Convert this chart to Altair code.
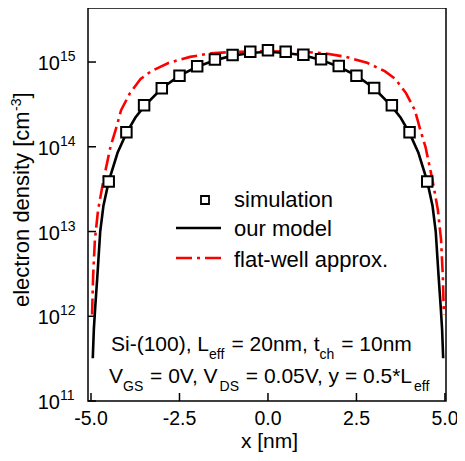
import altair as alt
import pandas as pd

# ---------------- data ----------------
x_sim = [-4.5, -4.0, -3.5, -3.0, -2.5, -2.0, -1.5, -1.0, -0.5, 0.0,
         0.5, 1.0, 1.5, 2.0, 2.5, 3.0, 3.5, 4.0, 4.5]
n_sim = [3.9e13, 1.48e14, 3.08e14, 4.9e14, 6.9e14, 8.9e14, 1.07e15, 1.21e15, 1.32e15, 1.38e15,
         1.32e15, 1.22e15, 1.08e15, 8.95e14, 6.9e14, 4.95e14, 3.08e14, 1.48e14, 3.9e13]

x_model = [-4.95, -4.92, -4.88, -4.82, -4.74, -4.65, -4.5, -4.25, -4.0, -3.75, -3.5, -3.0,
           -2.5, -2.0, -1.5, -1.0, -0.5, 0.0, 0.5, 1.0, 1.5, 2.0, 2.5, 3.0, 3.5, 3.75,
           4.0, 4.25, 4.5, 4.65, 4.74, 4.82, 4.88, 4.92, 4.95]
n_model = [3.2e11, 7e11, 1.3e12, 3e12, 1e13, 2.0e13, 3.9e13, 8.5e13, 1.45e14, 2.2e14, 3.0e14, 4.9e14,
           6.9e14, 8.8e14, 1.05e15, 1.19e15, 1.28e15, 1.32e15, 1.28e15, 1.2e15, 1.06e15, 8.8e14, 6.9e14, 4.9e14, 3.0e14, 2.2e14,
           1.45e14, 8.5e13, 3.9e13, 2.0e13, 1e13, 3e12, 1.3e12, 7e11, 3.2e11]

x_flat = [-4.97, -4.94, -4.89, -4.8, -4.65, -4.45, -4.3, -4.15, -3.9, -3.6, -3.3, -2.8, -2.2, -1.6, -0.9, 0.0,
          0.9, 1.6, 2.2, 2.8, 3.3, 3.6, 3.9, 4.15, 4.3, 4.45, 4.65, 4.8, 4.89, 4.94, 4.97]
n_flat = [1.05e12, 3e12, 8e12, 1.8e13, 4e13, 1.0e14, 1.6e14, 2.7e14, 4.3e14, 6.3e14, 7.8e14, 9.8e14, 1.15e15, 1.27e15, 1.32e15, 1.34e15,
          1.32e15, 1.27e15, 1.15e15, 9.8e14, 7.8e14, 6.3e14, 4.3e14, 2.7e14, 1.6e14, 1.0e14, 4e13, 1.8e13, 8e12, 3e12, 1.05e12]

x_ticks = [-5.0, -2.5, 0.0, 2.5, 5.0]
x_tick_labels = ["-5.0", "-2.5", "0.0", "2.5", "5.0"]
y_ticks = [1e11, 1e12, 1e13, 1e14, 1e15]
y_tick_exp = ["11", "12", "13", "14", "15"]

legend_labels = ["simulation", "our model", "flat-well approx."]

# annotation: (text, is_subscript)
note_line1 = [("Si-(100), L", False), ("eff", True), (" = 20nm, t", False), ("ch", True), (" = 10nm", False)]
note_line2 = [("V", False), ("GS", True), (" = 0V, V", False), ("DS", True), (" = 0.05V, y = 0.5*L", False), ("eff", True)]

# ---------------- chart ----------------
FONT = "Liberation Sans"
RED = "#ff0000"
W, H = 358, 393

# Arial / Liberation Sans advance widths (per 1000 em)
AW = {" ": 278, "(": 333, ")": 333, "*": 389, ",": 278, "-": 333, ".": 278, "=": 584,
      "0": 556, "1": 556, "2": 556, "5": 556, "D": 722, "G": 778, "L": 556, "S": 667, "V": 667,
      "c": 500, "e": 556, "f": 278, "h": 556, "i": 222, "m": 833, "n": 556, "t": 278, "y": 500}


def tw(s, size):
    return sum(AW.get(ch, 556) for ch in s) * size / 1000.0


xs = alt.Scale(domain=[-5.085, 5.03], nice=False, zero=False)
ys = alt.Scale(type="log", domain=[1e11, 4.34e15], nice=False)

X = lambda f: alt.X(f, type="quantitative", scale=xs, axis=None)
Y = lambda f: alt.Y(f, type="quantitative", scale=ys, axis=None)

df_sim = pd.DataFrame({"x": x_sim, "n": n_sim})
df_model = pd.DataFrame({"x": x_model, "n": n_model})
df_flat = pd.DataFrame({"x": x_flat, "n": n_flat})
df_xt = pd.DataFrame({"x": x_ticks, "lab": x_tick_labels})
df_yt = pd.DataFrame({"n": y_ticks, "e": y_tick_exp})
one = pd.DataFrame({"d": [0]})

flat = alt.Chart(df_flat).mark_line(color=RED, strokeWidth=2.6, strokeDash=[16, 5, 3, 5]).encode(
    x=X("x"), y=Y("n"))
model = alt.Chart(df_model).mark_line(color="black", strokeWidth=2.6).encode(x=X("x"), y=Y("n"))
sim = alt.Chart(df_sim).mark_square(size=110, fill="white", stroke="black", strokeWidth=2, opacity=1).encode(
    x=X("x"), y=Y("n"))

xtick = alt.Chart(df_xt).mark_rule(color="black", strokeWidth=1.5).encode(
    x=X("x"), y=alt.value(H), y2=alt.value(H - 8))
xlab = alt.Chart(df_xt).mark_text(font=FONT, fontSize=19.5, color="black", align="center",
                                  baseline="alphabetic").encode(x=X("x"), y=alt.value(417), text="lab:N")
ytick = alt.Chart(df_yt).mark_rule(color="black", strokeWidth=1.5).encode(
    y=Y("n"), x=alt.value(0), x2=alt.value(8))
ylab10 = alt.Chart(df_yt).mark_text(font=FONT, fontSize=20, color="black", align="right",
                                    baseline="alphabetic", dy=8, text="10").encode(y=Y("n"), x=alt.value(-28))
ylabexp = alt.Chart(df_yt).mark_text(font=FONT, fontSize=14, color="black", align="left",
                                     baseline="alphabetic", dy=-1).encode(y=Y("n"), x=alt.value(-28), text="e:N")


def txt(s, x, y, size, align="left", baseline="alphabetic", angle=0, color="black"):
    return alt.Chart(one).mark_text(text=s, font=FONT, fontSize=size, color=color, align=align,
                                    baseline=baseline, angle=angle).encode(x=alt.value(x), y=alt.value(y))


def rich_line(parts, x0, y, size=21, sub_size=14, sub_drop=8, sub_gap=1):
    out = []
    x = x0
    for s, sub in parts:
        sz = sub_size if sub else size
        lead = len(s) - len(s.lstrip(" "))
        x += tw(" " * lead, sz)
        body = s.strip(" ")
        out.append(txt(body, x, y + (sub_drop if sub else 0), sz))
        x += tw(body, sz) + (sub_gap if sub else 0)
    return out


texts = [
    # axis titles
    txt("x [nm]", 181.5, 440, 21, align="center"),
    txt("electron density [cm", -59, 299, 22, angle=270),
    txt("-3", -67, 103, 14, angle=270),
    txt("]", -59, 90.5, 22, angle=270),
    # legend labels
    txt(legend_labels[0], 146, 192, 22, baseline="middle"),
    txt(legend_labels[1], 146, 221, 22, baseline="middle"),
    txt(legend_labels[2], 146, 252, 22, baseline="middle"),
]
texts += rich_line(note_line1, 23, 343)
texts += rich_line(note_line2, 21, 375)

leg_sq = alt.Chart(one).mark_square(size=64, fill="white", stroke="black", strokeWidth=1.8, opacity=1).encode(
    x=alt.value(117), y=alt.value(192))
leg_model = alt.Chart(one).mark_rule(color="black", strokeWidth=2.6).encode(
    x=alt.value(88), x2=alt.value(133), y=alt.value(220))
leg_flat = alt.Chart(one).mark_rule(color=RED, strokeWidth=2.6, strokeDash=[16, 5, 3, 5]).encode(
    x=alt.value(88), x2=alt.value(134), y=alt.value(250))

chart = alt.layer(
    flat, model, sim, xtick, ytick, xlab, ylab10, ylabexp, leg_sq, leg_model, leg_flat, *texts
).properties(
    width=W, height=H,
    padding={"left": 80, "top": 0, "right": 11, "bottom": 52},
    autosize=alt.AutoSizeParams(type="none"),
).configure_view(stroke="black", strokeWidth=1.5)

chart.save("out.html", embed_options={"renderer": "svg", "actions": False})
